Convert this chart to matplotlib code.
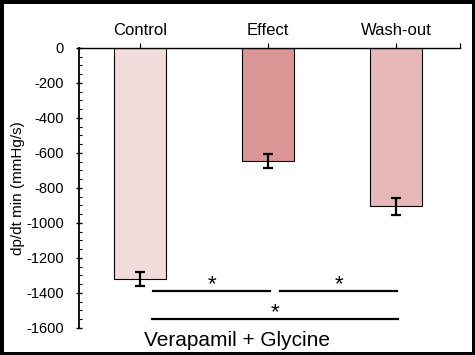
import matplotlib.pyplot as plt
from matplotlib.ticker import MultipleLocator

# data
conditions = ["Control", "Effect", "Wash-out"]
dpdt_min = [-1320, -645, -905]
sem = [40, 42, 48]
bar_colors = ["#f2dcdb", "#d99694", "#e6b9b8"]
group_label = "Verapamil + Glycine"

plt.rcParams["font.family"] = ["Liberation Sans", "DejaVu Sans"]

fig = plt.figure(figsize=(4.75, 3.55), dpi=100)
fig.patch.set_edgecolor("black")
fig.patch.set_linewidth(5)
ax = fig.add_axes([0.1663, 0.0761, 0.8021, 0.7887])

x = list(range(len(conditions)))
ax.bar(x, dpdt_min, width=0.4, color=bar_colors, edgecolor="black",
       linewidth=0.8, zorder=2)
ax.errorbar(x, dpdt_min, yerr=sem, fmt="none", ecolor="black",
            elinewidth=1.6, capsize=3.8, capthick=1.6, zorder=3)

x_right = 2.5
ax.set_ylim(-1600, 0)
ax.set_xlim(-0.477, x_right)
ax.yaxis.set_major_locator(MultipleLocator(200))
ax.yaxis.set_minor_locator(MultipleLocator(50))
ax.yaxis.set_major_formatter(plt.FuncFormatter(lambda v, p: f"{v:.0f}"))
ax.tick_params(axis="y", which="major", direction="inout", length=5,
               width=1.0, labelsize=10.5, pad=8.5)
ax.tick_params(axis="y", which="minor", direction="in", length=2.5, width=0.8)

ax.xaxis.tick_top()
ax.set_xticks(x + [x_right])
ax.set_xticklabels(conditions + [""])
ax.tick_params(axis="x", direction="out", length=3.5, width=0.9,
               labelsize=12, pad=4)

for side in ["right", "bottom"]:
    ax.spines[side].set_visible(False)
ax.spines["left"].set_linewidth(1.3)
ax.spines["top"].set_linewidth(1.0)

ax.set_ylabel("dp/dt min (mmHg/s)", fontsize=11, labelpad=1)

# significance brackets
pairs = [(0, 1, -1389, 0.102, 0.016), (1, 2, -1389, 0.094, 0.008),
         (0, 2, -1549, 0.094, 0.016)]
for a, b, yv, off_a, off_b in pairs:
    xa, xb = x[a] + off_a, x[b] + off_b
    ax.plot([xa, xb], [yv, yv], color="black", lw=1.6, clip_on=False)
    ax.text((xa + xb) / 2, yv + 5, "*", ha="center", va="baseline",
            fontsize=16, clip_on=False)

ax.text(0.758, -1672, group_label, ha="center", va="center",
        fontsize=15, clip_on=False)

fig.savefig("out.png", dpi=100, edgecolor=fig.get_edgecolor())
